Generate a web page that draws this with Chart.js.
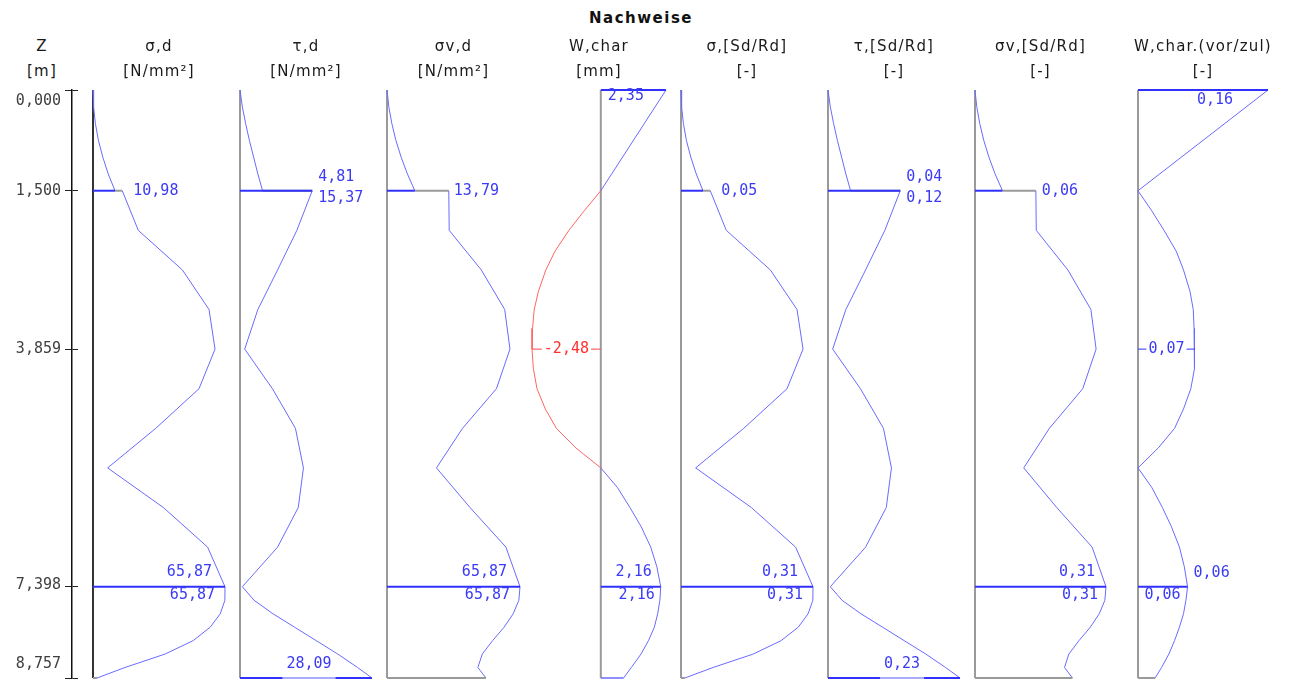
<!DOCTYPE html>
<html>
<head>
<meta charset="utf-8">
<script src="https://cdn.jsdelivr.net/npm/chart.js@4.4.1/dist/chart.umd.min.js"></script>
<style>
  body { margin: 0; background: #fff; }
  #wrap { position: relative; width: 1296px; height: 681px; overflow: hidden; font-family: "DejaVu Sans", sans-serif; }
  #wrap canvas { position: absolute; top: 0; }
  .hd { position: absolute; top: 34px; width: 200px; margin-left: -100px; text-align: center; font-size: 15px; line-height: 25px; letter-spacing: 1.2px; color: #1a1a1a; white-space: nowrap; }
  .ttl { position: absolute; top: 7px; left: 0; width: 1282px; text-align: center; font-weight: bold; font-size: 15px; line-height: 22px; letter-spacing: 1.5px; color: #111; }
</style>
</head>
<body>
<div id="wrap"><div class="ttl">Nachweise</div></div>
<script>
// depth stations [m]
const zTicks = [0, 1.5, 3.859, 7.398, 8.757];
const zSt = [0, 0.25, 0.5, 0.75, 1.0, 1.25, 1.5, 1.5, 2.09, 2.68, 3.269, 3.859, 4.449, 5.039, 5.628, 6.218, 6.808, 7.398, 7.6, 7.8, 8.0, 8.2, 8.4, 8.6, 8.757];

const sigmaD  = [0, 0.3, 1.2, 2.7, 4.9, 7.6, 10.98, 14.6, 22.6, 44.6, 57.9, 60.9, 52.9, 31.3, 7.3, 35.1, 57.2, 65.87, 65.8, 63.5, 58.5, 50, 36, 16, 2];
const tauD    = [0, 0.5, 1.2, 2.0, 2.9, 3.8, 4.81, 15.37, 12.1, 8.0, 3.8, 1.0, 6.9, 11.8, 13.5, 12.4, 8.0, 0.5, 3.0, 7.0, 11.6, 16.2, 20.8, 25.0, 28.09];
const sigmaVD = [0, 0.9, 2.4, 4.4, 7.0, 10.1, 13.79, 30.6, 30.8, 46.7, 58.3, 60.9, 54.2, 37.4, 24.5, 41.1, 58.9, 65.87, 65.3, 62.5, 58.0, 52.3, 47.2, 45.0, 49.0];
const sigmaR  = [0, 0.0014, 0.0056, 0.0126, 0.0229, 0.0356, 0.0514, 0.0684, 0.1058, 0.2088, 0.2711, 0.2851, 0.2477, 0.1465, 0.0342, 0.1643, 0.2678, 0.3084, 0.308, 0.297, 0.274, 0.234, 0.169, 0.075, 0.009];
const tauR    = [0, 0.004, 0.0097, 0.0162, 0.0235, 0.0308, 0.039, 0.1247, 0.0981, 0.0649, 0.0308, 0.0081, 0.056, 0.0957, 0.1095, 0.1006, 0.0649, 0.004, 0.0243, 0.0568, 0.0941, 0.1314, 0.1687, 0.2028, 0.2278];
const sigmaVR = [0, 0.0042, 0.0112, 0.0206, 0.0328, 0.0473, 0.0646, 0.1433, 0.1442, 0.2186, 0.2729, 0.2851, 0.2537, 0.1751, 0.1147, 0.1924, 0.2757, 0.3084, 0.3057, 0.2926, 0.2715, 0.2449, 0.221, 0.2107, 0.2294];

const wZ     = [0, 1.5, 1.8, 2.09, 2.4, 2.68, 3.0, 3.269, 3.55, 3.859, 4.15, 4.449, 4.75, 5.039, 5.33, 5.628, 5.92, 6.218, 6.5, 6.808, 7.1, 7.398, 7.6, 7.8, 8.0, 8.2, 8.4, 8.6, 8.757];
const wChar  = [2.35, 0, -0.6, -1.15, -1.65, -1.98, -2.25, -2.4, -2.46, -2.48, -2.43, -2.3, -2.0, -1.6, -0.9, 0, 0.6, 1.05, 1.45, 1.8, 2.02, 2.16, 2.13, 2.05, 1.93, 1.72, 1.45, 1.1, 0.82];
const wRatio = [0.16, 0, 0.017, 0.032, 0.047, 0.056, 0.064, 0.068, 0.069, 0.07, 0.069, 0.065, 0.056, 0.045, 0.025, 0, 0.017, 0.03, 0.041, 0.051, 0.057, 0.061, 0.059, 0.056, 0.051, 0.045, 0.038, 0.029, 0.021];

const headers = [
  ['σ,d', '[N/mm²]'], ['τ,d', '[N/mm²]'], ['σv,d', '[N/mm²]'], ['W,char', '[mm]'],
  ['σ,[Sd/Rd]', '[-]'], ['τ,[Sd/Rd]', '[-]'], ['σv,[Sd/Rd]', '[-]'], ['W,char.(vor/zul)', '[-]']
];

const BLUE = '#6a6aff', BLUE_D = '#3030ff', RED = '#ff6464', RED_D = '#ff4848';
const GRAY = '#9a9a9a', TXT_B = '#3b3bf5', TXT_R = '#ff3030';
const NUM_FONT = '15px "DejaVu Sans Mono", monospace';
const ZEND = zTicks[zTicks.length - 1];

function fmt(v, d = 2) { return v.toFixed(d).replace('.', ','); }
function pts(zs, vs) { return zs.map((z, i) => ({ x: vs[i], y: z })); }

const panels = [
  { left: 93, right: 225, min: 0, max: sigmaD[17], z: zSt, v: sigmaD, base: '#333',
    marks: [[1.5, sigmaD[6], BLUE_D, 2], [7.398, sigmaD[17], BLUE_D, 2], [ZEND, sigmaD[24], GRAY, 2]],
    labels: [
      { z: 1.5, at: sigmaD[7], text: fmt(sigmaD[6]), dx: 11, dy: 0 },
      { z: 7.398, at: sigmaD[17], text: fmt(sigmaD[17]), dx: -13, dy: -15, align: 'right' },
      { z: 7.398, at: sigmaD[17], text: fmt(sigmaD[17]), dx: -10, dy: 8, align: 'right' }] },
  { left: 240, right: 372, min: 0, max: tauD[24], z: zSt, v: tauD, base: GRAY,
    marks: [[1.5, tauD[7], BLUE_D, 2], [ZEND, tauD[24], BLUE_D, 2]],
    labels: [
      { z: 1.5, at: tauD[7], text: fmt(tauD[6]), dx: 6, dy: -14 },
      { z: 1.5, at: tauD[7], text: fmt(tauD[7]), dx: 6, dy: 7 },
      { z: ZEND, at: tauD[24] / 2, text: fmt(tauD[24]), dx: 3, dy: -14, align: 'center', bg: 'soft' }] },
  { left: 387, right: 520, min: 0, max: sigmaVD[17], z: zSt, v: sigmaVD, base: GRAY,
    marks: [[1.5, sigmaVD[6], BLUE_D, 2], [7.398, sigmaVD[17], BLUE_D, 2], [ZEND, sigmaVD[24], GRAY, 2]],
    labels: [
      { z: 1.5, at: sigmaVD[7], text: fmt(sigmaVD[6]), dx: 5, dy: 0 },
      { z: 7.398, at: sigmaVD[17], text: fmt(sigmaVD[17]), dx: -13, dy: -15, align: 'right' },
      { z: 7.398, at: sigmaVD[17], text: fmt(sigmaVD[17]), dx: -10, dy: 8, align: 'right' }] },
  { left: 532, right: 666, min: wChar[9], max: wChar[0], z: wZ, v: wChar, base: GRAY,
    marks: [[0, wChar[0], BLUE_D, 2], [3.859, wChar[9], RED_D, 1], [7.398, wChar[21], BLUE_D, 2], [ZEND, wChar[28], BLUE, 1.5]],
    labels: [
      { z: 0, at: 0, text: fmt(wChar[0]), dx: 7, dy: 6 },
      { z: 3.859, at: wChar[9] / 2, text: fmt(wChar[9]), dx: 0, dy: 0, align: 'center', color: TXT_R, bg: 'solid' },
      { z: 7.398, at: wChar[21], text: fmt(wChar[21]), dx: -9, dy: -15, align: 'right' },
      { z: 7.398, at: wChar[21], text: fmt(wChar[21]), dx: -6, dy: 8, align: 'right' }] },
  { left: 681, right: 813, min: 0, max: sigmaR[17], z: zSt, v: sigmaR, base: GRAY,
    marks: [[1.5, sigmaR[6], BLUE_D, 2], [7.398, sigmaR[17], BLUE_D, 2], [ZEND, sigmaR[24], GRAY, 2]],
    labels: [
      { z: 1.5, at: sigmaR[7], text: fmt(sigmaR[6]), dx: 11, dy: 0 },
      { z: 7.398, at: sigmaR[17], text: fmt(sigmaR[17]), dx: -15, dy: -15, align: 'right' },
      { z: 7.398, at: sigmaR[17], text: fmt(sigmaR[17]), dx: -10, dy: 8, align: 'right' }] },
  { left: 828, right: 960, min: 0, max: tauR[24], z: zSt, v: tauR, base: GRAY,
    marks: [[1.5, tauR[7], BLUE_D, 2], [ZEND, tauR[24], BLUE_D, 2]],
    labels: [
      { z: 1.5, at: tauR[7], text: fmt(tauR[6]), dx: 6, dy: -14 },
      { z: 1.5, at: tauR[7], text: fmt(tauR[7]), dx: 6, dy: 7 },
      { z: ZEND, at: tauR[24] / 2, text: fmt(tauR[24]), dx: 8, dy: -14, align: 'center', bg: 'soft' }] },
  { left: 975, right: 1106, min: 0, max: sigmaVR[17], z: zSt, v: sigmaVR, base: GRAY,
    marks: [[1.5, sigmaVR[6], BLUE_D, 2], [7.398, sigmaVR[17], BLUE_D, 2], [ZEND, sigmaVR[24], GRAY, 2]],
    labels: [
      { z: 1.5, at: sigmaVR[7], text: fmt(sigmaVR[6]), dx: 6, dy: 0 },
      { z: 7.398, at: sigmaVR[17], text: fmt(sigmaVR[17]), dx: -11, dy: -15, align: 'right' },
      { z: 7.398, at: sigmaVR[17], text: fmt(sigmaVR[17]), dx: -8, dy: 8, align: 'right' }] },
  { left: 1138, right: 1268, min: 0, max: wRatio[0], z: wZ, v: wRatio, base: GRAY,
    marks: [[0, wRatio[0], BLUE_D, 2], [3.859, wRatio[9], BLUE_D, 1], [7.398, wRatio[21], BLUE_D, 2], [ZEND, wRatio[28], GRAY, 2]],
    labels: [
      { z: 0, at: wRatio[0] / 2, text: fmt(wRatio[0]), dx: 12, dy: 10, align: 'center' },
      { z: 3.859, at: wRatio[9] / 2, text: fmt(wRatio[9]), dx: 0, dy: 0, align: 'center', bg: 'solid' },
      { z: 7.398, at: wRatio[21], text: fmt(wRatio[21]), dx: 6, dy: -14 },
      { z: 7.398, at: wRatio[21], text: fmt(wRatio[21]), dx: -7, dy: 8, align: 'right' }] }
];

function makeLabelPlugin(items) {
  return {
    id: 'valueLabels',
    afterDatasetsDraw(chart) {
      const { ctx, scales: { x, y } } = chart;
      ctx.save();
      ctx.font = NUM_FONT;
      ctx.textBaseline = 'middle';
      items.forEach(it => {
        const align = it.align || 'left';
        const px = x.getPixelForValue(it.at) + it.dx;
        const py = y.getPixelForValue(it.z) + it.dy;
        const w = ctx.measureText(it.text).width;
        const l = align === 'left' ? px : align === 'right' ? px - w : px - w / 2;
        if (it.bg === 'solid') { ctx.fillStyle = '#fff'; ctx.fillRect(l - 2, py - 7, w + 4, 14); }
        if (it.bg === 'soft') { ctx.fillStyle = 'rgba(255,255,255,0.6)'; ctx.fillRect(l - 4, py - 8, w + 8, 24); }
        ctx.fillStyle = it.color || TXT_B;
        ctx.textAlign = align;
        ctx.fillText(it.text, px, py);
      });
      ctx.restore();
    }
  };
}

function lineDs(data, color, width) {
  return { data, borderColor: color, borderWidth: width, showLine: true, pointRadius: 0, fill: false, clip: false };
}

const wrap = document.getElementById('wrap');

function addHeader(cx, lines) {
  const d = document.createElement('div');
  d.className = 'hd';
  d.style.left = cx + 'px';
  d.innerHTML = lines.join('<br>');
  wrap.appendChild(d);
}

function addCanvas(left, width) {
  const cv = document.createElement('canvas');
  cv.width = width; cv.height = 681;
  cv.style.left = left + 'px';
  wrap.appendChild(cv);
  return cv;
}

// Z axis
addHeader(42, ['Z', '[m]']);
const zOffsets = [11, 0, 0, -2, -14];
new Chart(addCanvas(0, 80), {
  type: 'scatter',
  data: { datasets: [] },
  options: {
    responsive: false, animation: false, devicePixelRatio: 1,
    layout: { padding: { top: 90, bottom: 3, left: 0, right: 2 } },
    plugins: { legend: { display: false }, tooltip: { enabled: false } },
    scales: {
      x: { display: false, min: 0, max: 1 },
      y: {
        min: 0, max: ZEND, reverse: true, position: 'left',
        afterBuildTicks: s => { s.ticks = zTicks.map(v => ({ value: v })); },
        afterFit: s => { s.width = 72; },
        ticks: { display: false },
        grid: { color: '#222', lineWidth: 1, tickLength: 7, drawOnChartArea: true },
        border: { color: '#111', width: 1.5 }
      }
    }
  },
  plugins: [{
    id: 'zLabels',
    afterDraw(chart) {
      const { ctx, scales: { y } } = chart;
      ctx.save();
      ctx.font = NUM_FONT;
      ctx.fillStyle = '#404040';
      ctx.textAlign = 'right';
      ctx.textBaseline = 'middle';
      zTicks.forEach((v, i) => ctx.fillText(fmt(v, 3), 61, y.getPixelForValue(v) + zOffsets[i]));
      ctx.restore();
    }
  }]
});

// result panels
panels.forEach((p, k) => {
  const pad = 8;
  addHeader((p.left + p.right) / 2, headers[k]);
  const ds = p.marks.map(m => lineDs([{ x: 0, y: m[0] }, { x: m[1], y: m[0] }], m[2], m[3]));
  const curve = lineDs(pts(p.z, p.v), BLUE, 1);
  curve.segment = {
    borderColor: c => c.p0.parsed.y === c.p1.parsed.y ? GRAY
      : (c.p0.parsed.x < 0 || c.p1.parsed.x < 0) ? RED : BLUE,
    borderWidth: c => c.p0.parsed.y === c.p1.parsed.y ? 2 : 1
  };
  ds.push(curve);
  ds.push(lineDs([{ x: 0, y: 0 }, { x: 0, y: ZEND }], p.base, 2));
  new Chart(addCanvas(p.left - pad, p.right - p.left + 2 * pad), {
    type: 'scatter',
    data: { datasets: ds },
    options: {
      responsive: false, animation: false, devicePixelRatio: 1,
      layout: { padding: { top: 90, bottom: 3, left: pad, right: pad } },
      plugins: { legend: { display: false }, tooltip: { enabled: false } },
      scales: {
        x: { display: false, min: p.min, max: p.max },
        y: { display: false, min: 0, max: ZEND, reverse: true }
      }
    },
    plugins: [makeLabelPlugin(p.labels)]
  });
});
</script>
</body>
</html>
